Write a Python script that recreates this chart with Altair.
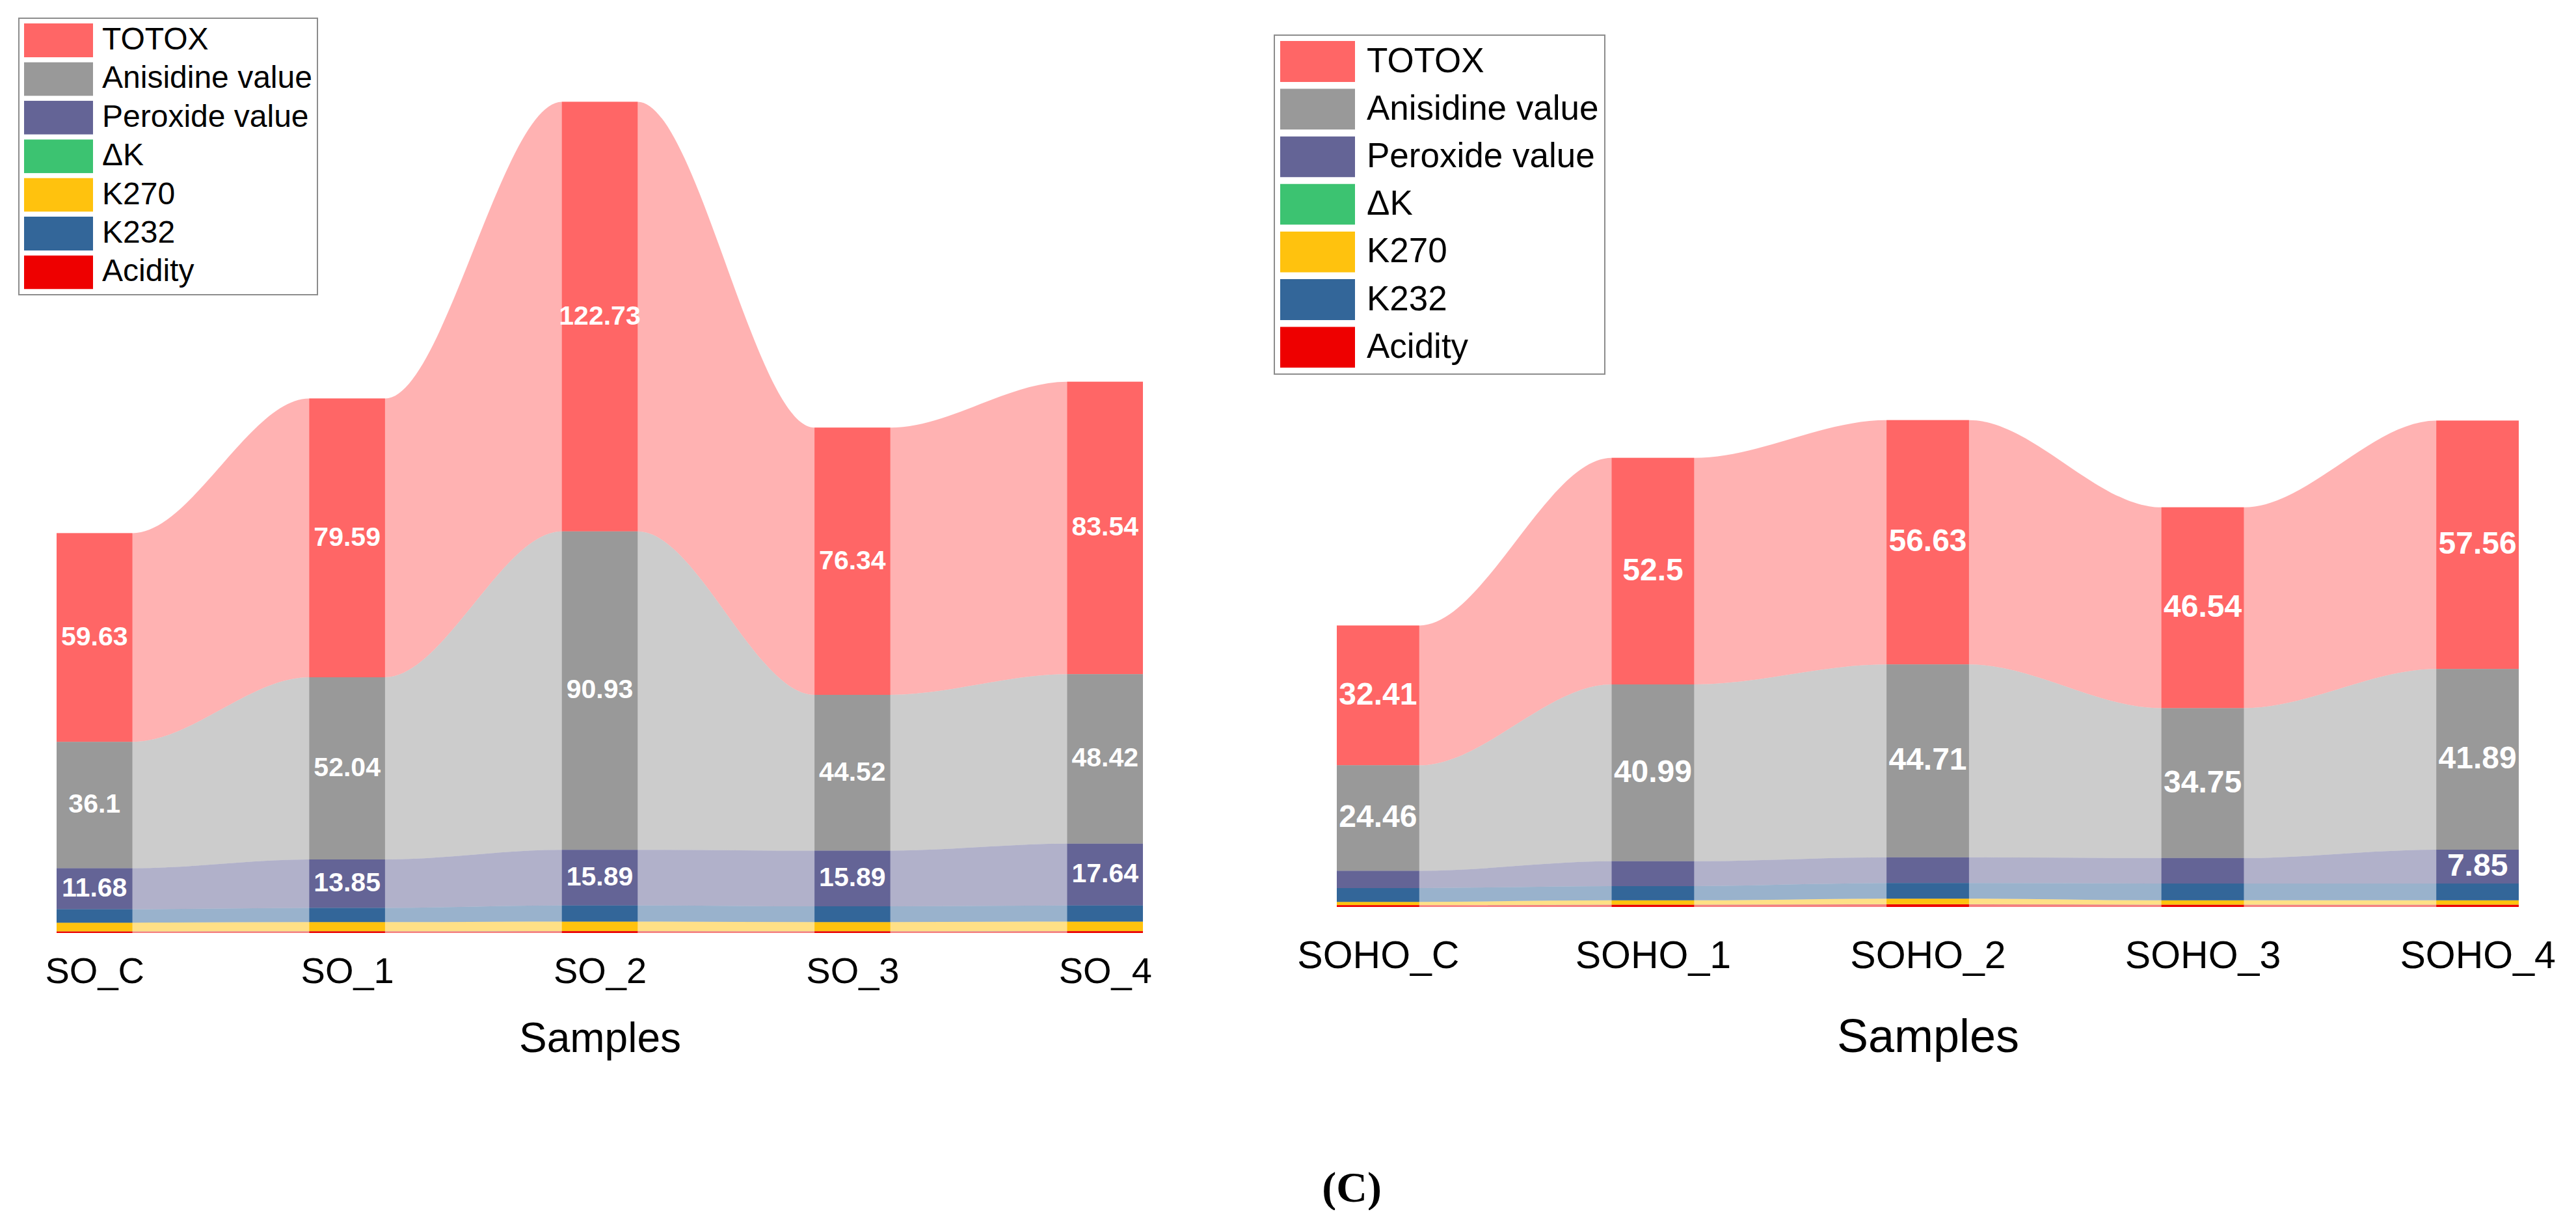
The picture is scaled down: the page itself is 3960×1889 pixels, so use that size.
import altair as alt
import pandas as pd

# legend order (top to bottom) and stacking order (bottom to top)
series = ["TOTOX", "Anisidine value", "Peroxide value", "ΔK", "K270", "K232", "Acidity"]
colors = ["#FF6666", "#999999", "#646496", "#3CC371", "#FFC20E", "#336699", "#EE0000"]
stack_order = ["Acidity", "ΔK", "K270", "K232", "Peroxide value", "Anisidine value", "TOTOX"]

# sunflower oil
so_samples = ["SO_C", "SO_1", "SO_2", "SO_3", "SO_4"]
so_totox = [59.63, 79.59, 122.73, 76.34, 83.54]
so_anisidine = [36.1, 52.04, 90.93, 44.52, 48.42]
so_peroxide = [11.68, 13.85, 15.89, 15.89, 17.64]
so_dk = [0.05, 0.06, 0.07, 0.06, 0.07]
so_k270 = [2.5, 2.6, 2.7, 2.6, 2.7]
so_k232 = [3.85, 4.05, 4.6, 4.5, 4.6]
so_acidity = [0.4, 0.45, 0.5, 0.45, 0.5]

# high oleic sunflower oil
soho_samples = ["SOHO_C", "SOHO_1", "SOHO_2", "SOHO_3", "SOHO_4"]
soho_totox = [32.41, 52.5, 56.63, 46.54, 57.56]
soho_anisidine = [24.46, 40.99, 44.71, 34.75, 41.89]
soho_peroxide = [3.98, 5.76, 5.96, 5.9, 7.85]
soho_dk = [0.03, 0.03, 0.04, 0.03, 0.03]
soho_k270 = [0.75, 1.0, 1.3, 1.0, 1.0]
soho_k232 = [3.2, 3.3, 3.6, 3.9, 3.9]
soho_acidity = [0.4, 0.5, 0.6, 0.5, 0.5]

HALF = 0.15  # half bar width, in sample units


def long_frame(samples, values):
    rows = []
    for name, vals in values.items():
        for i, v in enumerate(vals):
            rows.append({"sample": samples[i], "idx": i, "series": name,
                         "value": v, "label": str(v),
                         "order": stack_order.index(name)})
    return pd.DataFrame(rows)


def panel(samples, values, width, height, ymax, label_min, lg, font):
    df = long_frame(samples, values)
    edges = df.merge(pd.DataFrame({"edge": [-1, 1]}), how="cross")

    # swatches are wide rectangles: sw wide, sh tall
    ratio = lg["sh"] / lg["sw"]
    color = alt.Color(
        "series:N",
        scale=alt.Scale(domain=series, range=colors),
        sort=series,
        legend=alt.Legend(
            title=None, orient="none", legendX=lg["x"], legendY=lg["y"],
            symbolType="M-1,-%.4fH1V%.4fH-1Z" % (ratio, ratio),
            symbolSize=lg["sw"] ** 2, symbolOpacity=1, symbolStrokeWidth=0,
            clipHeight=lg["sh"],
            labelFontSize=lg["font"], labelFont="Liberation Sans", labelColor="black",
            labelOffset=lg["off"], labelLimit=800, rowPadding=lg["row"],
            padding=lg["pad"], strokeColor="#8c8c8c", fillColor="white",
        ),
    )
    xscale = alt.Scale(domain=[-HALF, len(samples) - 1 + HALF], nice=False, zero=False)
    yscale = alt.Scale(domain=[0, ymax], nice=False)
    names = "[" + ",".join("'%s'" % s for s in samples) + "]"
    xaxis = alt.Axis(
        values=list(range(len(samples))), labelExpr=names + "[datum.value]",
        domain=False, ticks=False, grid=False, labelFlush=False, labelOverlap=False,
        labelLimit=600, labelFontSize=font["tick"], labelPadding=font["tickpad"],
        labelColor="black",
        title="Samples", titleFontSize=font["title"], titleFontWeight="normal",
        titlePadding=font["titlepad"], titleColor="black",
    )

    stack = dict(stack="value", as_=["y0", "y1"],
                 sort=[alt.SortField("order", "ascending")])

    ribbons = alt.Chart(edges).transform_stack(
        groupby=["idx", "edge"], **stack
    ).transform_calculate(
        xe="datum.idx + datum.edge * %f" % HALF
    ).mark_area(interpolate="monotone", opacity=0.5).encode(
        x=alt.X("xe:Q", scale=xscale, axis=xaxis),
        y=alt.Y("y1:Q", scale=yscale, axis=None),
        y2="y0:Q",
        color=color,
    )

    bars = alt.Chart(df).transform_stack(
        groupby=["idx"], **stack
    ).transform_calculate(
        xl="datum.idx - %f" % HALF, xr="datum.idx + %f" % HALF
    ).mark_rect().encode(
        x=alt.X("xl:Q", scale=xscale),
        x2="xr:Q",
        y=alt.Y("y0:Q", scale=yscale),
        y2="y1:Q",
        color=color,
    )

    labels = alt.Chart(df).transform_stack(
        groupby=["idx"], **stack
    ).transform_calculate(
        ymid="(datum.y0 + datum.y1) / 2"
    ).transform_filter(
        alt.FieldOneOfPredicate("series", ["TOTOX", "Anisidine value", "Peroxide value"])
    ).transform_filter(
        "datum.value >= %f" % label_min
    ).mark_text(color="white", fontWeight="bold", font="Liberation Sans",
                fontSize=font["value"]).encode(
        x=alt.X("idx:Q", scale=xscale),
        y=alt.Y("ymid:Q", scale=yscale),
        text="label:N",
    )

    return (ribbons + bars + labels).properties(width=width, height=height)


left = panel(
    so_samples,
    {"TOTOX": so_totox, "Anisidine value": so_anisidine, "Peroxide value": so_peroxide,
     "ΔK": so_dk, "K270": so_k270, "K232": so_k232, "Acidity": so_acidity},
    width=1670, height=1426, ymax=265, label_min=10,
    lg={"x": -58, "y": 20, "sw": 106, "sh": 52, "font": 48, "off": 14,
        "row": 7.4, "pad": 8},
    font={"tick": 56, "tickpad": 32, "title": 64, "titlepad": 44, "value": 41},
)

right = panel(
    soho_samples,
    {"TOTOX": soho_totox, "Anisidine value": soho_anisidine, "Peroxide value": soho_peroxide,
     "ΔK": soho_dk, "K270": soho_k270, "K232": soho_k232, "Acidity": soho_acidity},
    width=1817, height=1386, ymax=209, label_min=7,
    lg={"x": -96, "y": 46, "sw": 115, "sh": 63, "font": 53, "off": 18,
        "row": 10.2, "pad": 9},
    font={"tick": 59, "tickpad": 46, "title": 72, "titlepad": 60, "value": 48},
)

chart = alt.hconcat(left, right, spacing=187).resolve_scale(
    color="independent"
).resolve_legend(
    color="independent"
).properties(
    title=alt.TitleParams("(C)", orient="bottom", anchor="middle", font="Liberation Serif",
                          fontSize=66, fontWeight="bold", color="black", offset=165, dx=100),
    padding={"left": 20, "top": 0, "right": 0, "bottom": 0},
).configure(
    font="Liberation Sans"
).configure_view(
    strokeWidth=0
).configure_legend(
    strokeWidth=2
)

chart.save("out.html", embed_options={"renderer": "svg", "actions": False})
